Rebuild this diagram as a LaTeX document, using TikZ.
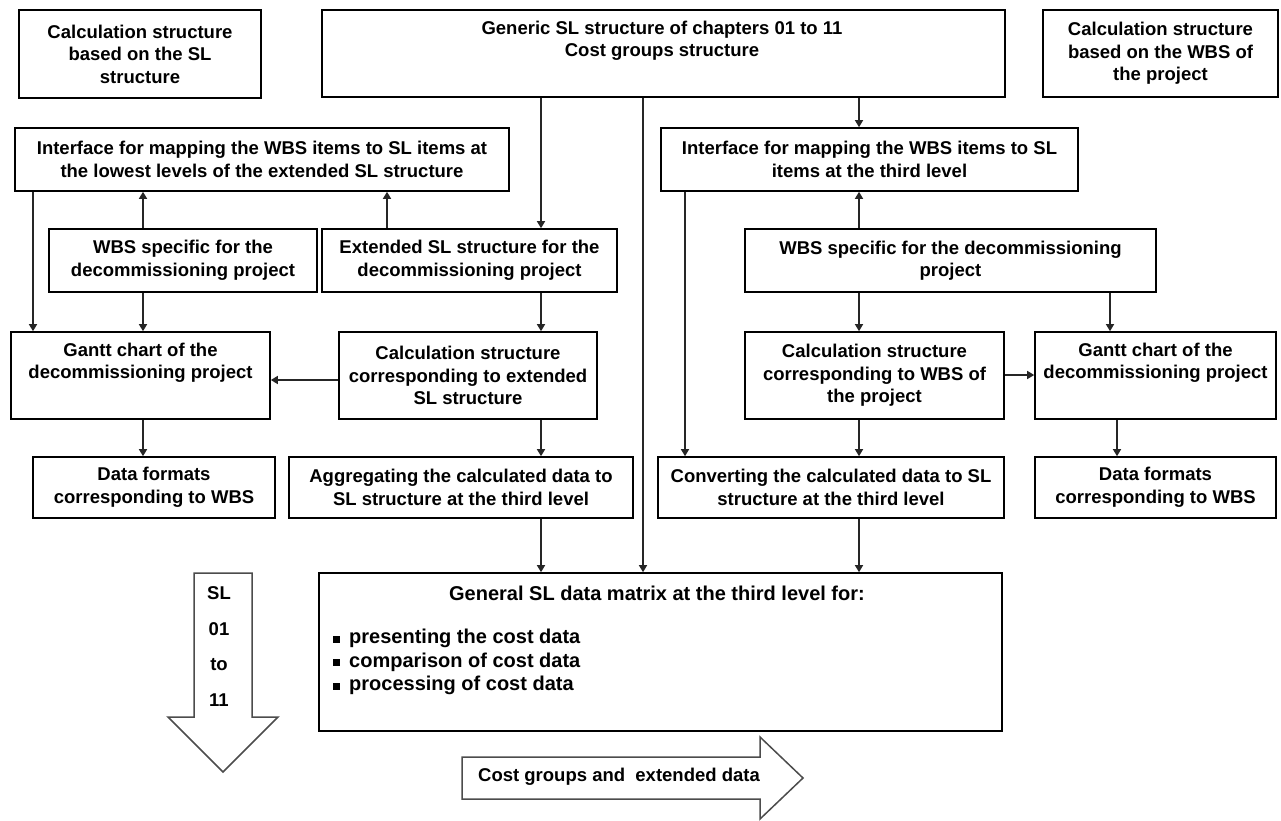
\documentclass[tikz,border=0pt]{standalone}
\usepackage{fontspec}
\setmainfont{Liberation Sans}
\usetikzlibrary{arrows.meta,calc}
\begin{document}
\begin{tikzpicture}[x=1pt,y=-1pt,
  every node/.style={font=\bfseries\fontsize{18.5}{22.5}\selectfont},
  box/.style={draw=black, line width=1.6pt, align=center, inner sep=2pt},
  txt/.style={align=center, inner sep=0pt},
  bigtxt/.style={txt, font=\bfseries\fontsize{20}{23.5}\selectfont},
  conn/.style={draw=black!85, line width=1.4pt, -{Triangle[length=7pt,width=8pt]}},
  bigarrow/.style={draw=black!70, line width=1.5pt, fill=white, line join=miter}]
\useasboundingbox (0,0) rectangle (1281,821);

% boxes
\node[box, minimum width=242, minimum height=88] (A) at (140,54) {Calculation structure\\based on the SL\\structure};
\node[box, minimum width=683, minimum height=87] (B) at (663.5,53.5) {};
\node[txt] (Bt) at (662,41) {Generic SL structure of chapters 01 to 11\\Cost groups structure};
\node[box, minimum width=235, minimum height=87] (C) at (1160.5,53.5) {Calculation structure\\based on the WBS of\\the project};

\node[box, minimum width=494, minimum height=63] (D) at (262,159.5) {Interface for mapping the WBS items to SL items at\\the lowest levels of the extended SL structure};
\node[box, minimum width=417, minimum height=63] (E) at (869.5,159.5) {Interface for mapping the WBS items to SL\\items at the third level};

\node[box, minimum width=268, minimum height=63] (F) at (183,260.5) {WBS specific for the\\decommissioning project};
\node[box, minimum width=295, minimum height=63] (G) at (469.5,260.5) {Extended SL structure for the\\decommissioning project};
\node[box, minimum width=411, minimum height=63] (H) at (950.5,260.5) {WBS specific for the decommissioning\\project};

\node[box, minimum width=259, minimum height=87] (I) at (140.5,375.5) {Gantt chart of the\\decommissioning project\\\strut};
\node[box, minimum width=258, minimum height=87] (J) at (468,375.5) {Calculation structure\\corresponding to extended\\SL structure};
\node[box, minimum width=259, minimum height=87] (K) at (874.5,375.5) {Calculation structure\\corresponding to WBS of\\the project};
\node[box, minimum width=241, minimum height=87] (L) at (1155.5,375.5) {Gantt chart of the\\decommissioning project\\\strut};

\node[box, minimum width=242, minimum height=61] (M) at (154,487.5) {Data formats\\corresponding to WBS};
\node[box, minimum width=344, minimum height=61] (N) at (461,487.5) {Aggregating the calculated data to\\SL structure at the third level};
\node[box, minimum width=346, minimum height=61] (O) at (831,487.5) {Converting the calculated data to SL\\structure at the third level};
\node[box, minimum width=241, minimum height=61] (P) at (1155.5,487.5) {Data formats\\corresponding to WBS};

\node[box, minimum width=683, minimum height=158] (Q) at (660.5,652) {};
\node[bigtxt] (Qt) at (657,593) {General SL data matrix at the third level for:};
\node[bigtxt, align=left, anchor=west] (Ql) at (333,662) {\rule[1pt]{7pt}{7pt}\hspace{9pt}presenting the cost data\\\rule[1pt]{7pt}{7pt}\hspace{9pt}comparison of cost data\\\rule[1pt]{7pt}{7pt}\hspace{9pt}processing of cost data};

% big arrows
\draw[bigarrow] (194,573) -- (194,717) -- (168,717) -- (223,772) -- (278,717) -- (252,717) -- (252,573) -- cycle;
\node[txt] (SLt) at (219,646.5) {SL\\[13pt]01\\[13pt]to\\[13pt]11};
\draw[bigarrow] (462,757) -- (760,757) -- (760,737) -- (803,778) -- (760,819) -- (760,799) -- (462,799) -- cycle;
\node[txt] (CGt) at (619,777) {Cost groups and\ \ extended data};

% connector x / y positions
\coordinate (x33) at (33,0);
\coordinate (x143) at (143,0);
\coordinate (x387) at (387,0);
\coordinate (x541) at (541,0);
\coordinate (x643) at (643,0);
\coordinate (x685) at (685,0);
\coordinate (x859) at (859,0);
\coordinate (x1110) at (1110,0);
\coordinate (x1117) at (1117,0);
\coordinate (y380) at (0,380);
\coordinate (y375) at (0,375);

% connectors
\draw[conn] (B.south -| x541) -- (G.north -| x541);
\draw[conn] (B.south -| x643) -- (Q.north -| x643);
\draw[conn] (B.south -| x859) -- (E.north -| x859);
\draw[conn] (F.north -| x143) -- (D.south -| x143);
\draw[conn] (G.north -| x387) -- (D.south -| x387);
\draw[conn] (D.south -| x33) -- (I.north -| x33);
\draw[conn] (F.south -| x143) -- (I.north -| x143);
\draw[conn] (G.south -| x541) -- (J.north -| x541);
\draw[conn] (J.west |- y380) -- (I.east |- y380);
\draw[conn] (J.south -| x541) -- (N.north -| x541);
\draw[conn] (I.south -| x143) -- (M.north -| x143);
\draw[conn] (N.south -| x541) -- (Q.north -| x541);
\draw[conn] (E.south -| x685) -- (O.north -| x685);
\draw[conn] (H.north -| x859) -- (E.south -| x859);
\draw[conn] (H.south -| x859) -- (K.north -| x859);
\draw[conn] (H.south -| x1110) -- (L.north -| x1110);
\draw[conn] (K.east |- y375) -- (L.west |- y375);
\draw[conn] (K.south -| x859) -- (O.north -| x859);
\draw[conn] (L.south -| x1117) -- (P.north -| x1117);
\draw[conn] (O.south -| x859) -- (Q.north -| x859);
\end{tikzpicture}
\end{document}
